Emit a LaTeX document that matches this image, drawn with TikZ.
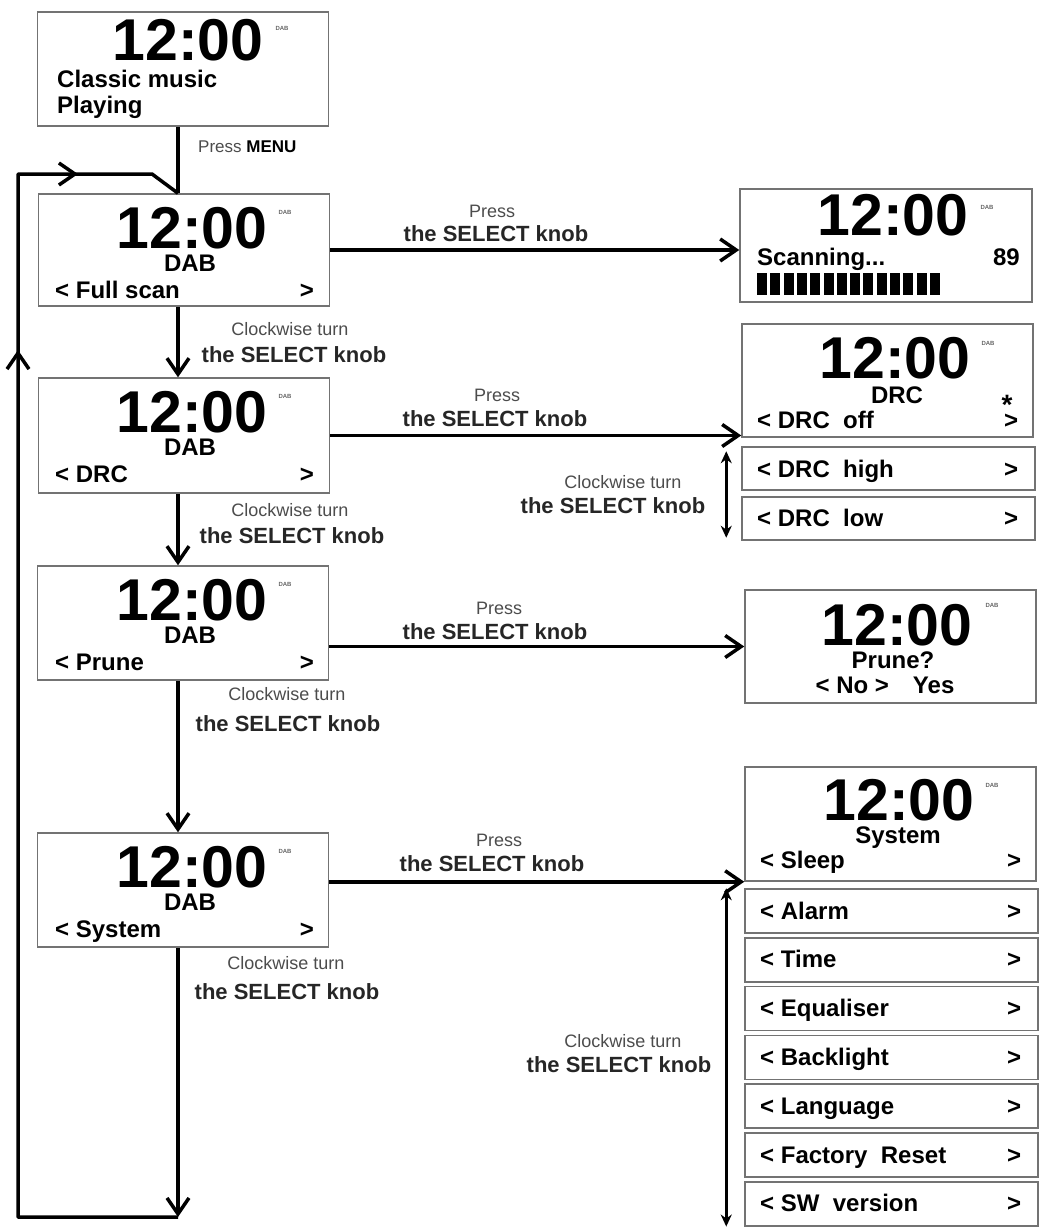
\documentclass[tikz,border=0pt]{standalone}
\usepackage{fontspec}
\setmainfont{Liberation Sans}
\usetikzlibrary{arrows.meta, decorations.markings, calc}

\begin{document}
\begin{tikzpicture}[x=1pt, y=-1pt,
    screen/.style={draw=black!55, line width=1.5pt, inner sep=0pt, minimum width=291pt, minimum height=113pt},
    entry/.style={draw=black!55, line width=1.5pt, inner sep=0pt, minimum width=293pt, minimum height=44pt},
    clock/.style={font=\fontsize{59}{59}\selectfont\bfseries, inner sep=0pt, text depth=0pt, anchor=base},
    tag/.style={font=\fontsize{6}{6}\selectfont\bfseries, text=black!60, inner sep=0pt},
    mode/.style={font=\fontsize{24}{24}\selectfont\bfseries, inner sep=0pt, text height=17pt, anchor=base},
    item/.style={font=\fontsize{24}{24}\selectfont\bfseries, inner sep=0pt, anchor=base west},
    hint/.style={font=\fontsize{18}{18}\selectfont, text=black!70, inner sep=0pt, anchor=base},
    knob/.style={font=\fontsize{22}{22}\selectfont\bfseries, text=black!85, inner sep=0pt, anchor=base},
    flow/.style={line width=3.5pt, -{Straight Barb[length=16pt, width=22pt]}},
    spin/.style={line width=2.5pt, {Stealth[length=12pt, width=11pt]}-{Stealth[length=12pt, width=11pt]}},
  ]
  \useasboundingbox (0,0) rectangle (1042,1231);

  % Playing screen
  \node[screen, minimum height=114pt] (play) at (183,69) {};
  \node[clock] (playclock) at (188,61) {12:00};
  \node[tag] (playtag) at (282,28) {DAB};
  \node[item] (playline1) at (57,87) {Classic music};
  \node[item] (playline2) at (57,113) {Playing};

  % Menu screens (left column)
  \node[screen, minimum height=112pt] (fullscan) at (184,250) {};
  \node[clock] (fullscanclock) at (192,248) {12:00};
  \node[tag] (fullscantag) at (285,212) {DAB};
  \node[mode] (fullscanmode) at (190,271) {DAB};
  \node[item] (fullscanitem) at (55,298) {< Full scan};
  \node[mode] (fullscangt) at (307,298) {>};

  \node[screen, minimum height=115pt] (drcmenu) at (184,435.5) {};
  \node[clock] (drcmenuclock) at (192,432) {12:00};
  \node[tag] (drcmenutag) at (285,396) {DAB};
  \node[mode] (drcmenumode) at (190,455) {DAB};
  \node[item] (drcmenuitem) at (55,482) {< DRC};
  \node[mode] (drcmenugt) at (307,482) {>};

  \node[screen, minimum height=114pt] (prunemenu) at (183,623) {};
  \node[clock] (prunemenuclock) at (192,620) {12:00};
  \node[tag] (prunemenutag) at (285,584) {DAB};
  \node[mode] (prunemenumode) at (190,643) {DAB};
  \node[item] (prunemenuitem) at (55,670) {< Prune};
  \node[mode] (prunemenugt) at (307,670) {>};

  \node[screen, minimum height=114pt] (systemmenu) at (183,890) {};
  \node[clock] (systemmenuclock) at (192,887) {12:00};
  \node[tag] (systemmenutag) at (285,851) {DAB};
  \node[mode] (systemmenumode) at (190,910) {DAB};
  \node[item] (systemmenuitem) at (55,937) {< System};
  \node[mode] (systemmenugt) at (307,937) {>};

  % Scanning screen
  \node[screen, minimum width=292pt] (scanning) at (886,245.5) {};
  \node[clock] (scanningclock) at (893,235) {12:00};
  \node[tag] (scanningtag) at (987,207) {DAB};
  \node[item] (scanningitem) at (757,265) {Scanning...};
  \node[item, anchor=base east] (scanningcount) at (1020,265) {89};
  \foreach \k in {0,...,13}
    \fill (757+13.3*\k,273) rectangle ++(10,22);

  % DRC screens
  \node[screen] (drcoff) at (887.5,380.5) {};
  \node[clock] (drcoffclock) at (895,378) {12:00};
  \node[tag] (drcofftag) at (988,343) {DAB};
  \node[mode] (drcoffmode) at (897,403) {DRC};
  \node[mode, font=\fontsize{28}{28}\selectfont\bfseries] (drcoffstar) at (1007,414) {*};
  \node[item] (drcoffitem) at (757,428) {< DRC\ \ off};
  \node[mode] (drcoffgt) at (1011,428) {>};

  \node[entry, minimum height=43pt] (drchigh) at (888.5,468.5) {};
  \node[item] (drchighitem) at (757,477) {< DRC\ \ high};
  \node[mode] (drchighgt) at (1011,477) {>};

  \node[entry, minimum height=43pt] (drclow) at (888.5,518.5) {};
  \node[item] (drclowitem) at (757,526) {< DRC\ \ low};
  \node[mode] (drclowgt) at (1011,526) {>};

  % Prune screen
  \node[screen] (pruneask) at (890.5,646.5) {};
  \node[clock] (pruneaskclock) at (897,645) {12:00};
  \node[tag] (pruneasktag) at (992,605) {DAB};
  \node[mode] (pruneaskmode) at (893,668) {Prune?};
  \node[mode] (pruneaskitem) at (885,693) {< No >\hspace{24pt}Yes};

  % System screens
  \node[screen, minimum height=114pt] (sleep) at (890.5,824) {};
  \node[clock] (sleepclock) at (899,820) {12:00};
  \node[tag] (sleeptag) at (992,785) {DAB};
  \node[mode] (sleepmode) at (898,843) {System};
  \node[item] (sleepitem) at (760,868) {< Sleep};
  \node[mode] (sleepgt) at (1014,868) {>};

  \foreach \name/\txt [count=\i from 0] in {alarm/Alarm, time/Time, equaliser/Equaliser,
      backlight/Backlight, language/Language, reset/Factory\ \ Reset, sw/SW\ \ version} {
    \node[entry] (\name) at (891.5,911+48.8*\i) {};
    \node[item] (\name item) at (760,919+48.8*\i) {< \txt};
    \node[mode] (\name gt) at (1014,919+48.8*\i) {>};
  }

  % Connectors
  \coordinate (spine) at (178,0);
  \coordinate (loopend) at (178,1217);
  \coordinate (loopleft) at (18,1217);
  \coordinate (looptop) at (18,174);
  \coordinate (kink) at (152,174);

  \draw[line width=3.5pt] (play.south -| spine) -- (fullscan.north -| spine);
  \node[hint, anchor=base west, font=\fontsize{17}{17}\selectfont] (menuhint) at (198,152)
    {Press \textcolor{black}{\bfseries MENU}};

  \draw[flow] (fullscan.south -| spine) -- (drcmenu.north -| spine);
  \draw[flow] (drcmenu.south -| spine) -- (prunemenu.north -| spine);
  \draw[flow] (prunemenu.south -| spine) -- (systemmenu.north -| spine);
  \draw[flow] (systemmenu.south -| spine) -- (loopend);
  \draw[line width=3.5pt, line join=round, postaction={decorate},
    decoration={markings,
      mark=at position 1027pt with {\arrow{Straight Barb[length=16pt, width=22pt]}},
      mark=at position 1263pt with {\arrow{Straight Barb[length=16pt, width=22pt]}}}]
    (loopend) -- (loopleft) -- (looptop) -- (kink) -- (fullscan.north -| spine);

  \node[hint] (turn1) at (290,335) {Clockwise turn};
  \node[knob] (turnknob1) at (294,362) {the SELECT knob};
  \node[hint] (turn2) at (290,516) {Clockwise turn};
  \node[knob] (turnknob2) at (292,543) {the SELECT knob};
  \node[hint] (turn3) at (287,700) {Clockwise turn};
  \node[knob] (turnknob3) at (288,731) {the SELECT knob};
  \node[hint] (turn4) at (286,969) {Clockwise turn};
  \node[knob] (turnknob4) at (287,999) {the SELECT knob};

  \draw[flow] (fullscan.east) -- (fullscan.east -| scanning.west);
  \draw[flow] (drcmenu.east) -- (drcmenu.east -| drcoff.west);
  \draw[flow] (prunemenu.east |- pruneask.west) -- (pruneask.west);
  \draw[flow] (systemmenu.east |- sleep.south) -- (sleep.south west);

  \node[hint] (press1) at (492,217) {Press};
  \node[knob] (pressknob1) at (496,241) {the SELECT knob};
  \node[hint] (press2) at (497,401) {Press};
  \node[knob] (pressknob2) at (495,426) {the SELECT knob};
  \node[hint] (press3) at (499,614) {Press};
  \node[knob] (pressknob3) at (495,639) {the SELECT knob};
  \node[hint] (press4) at (499,846) {Press};
  \node[knob] (pressknob4) at (492,871) {the SELECT knob};

  \draw[spin] ([xshift=-15pt, yshift=-5pt]drchigh.north west) -- ([xshift=-15pt, yshift=3pt]drclow.south west);
  \node[hint] (drcturn) at (623,488) {Clockwise turn};
  \node[knob] (drcturnknob) at (613,513) {the SELECT knob};

  \draw[spin] ([xshift=-18pt]alarm.north west) -- ([xshift=-18pt]sw.south west);
  \node[hint] (systurn) at (623,1047) {Clockwise turn};
  \node[knob] (systurnknob) at (619,1072) {the SELECT knob};

\end{tikzpicture}
\end{document}
